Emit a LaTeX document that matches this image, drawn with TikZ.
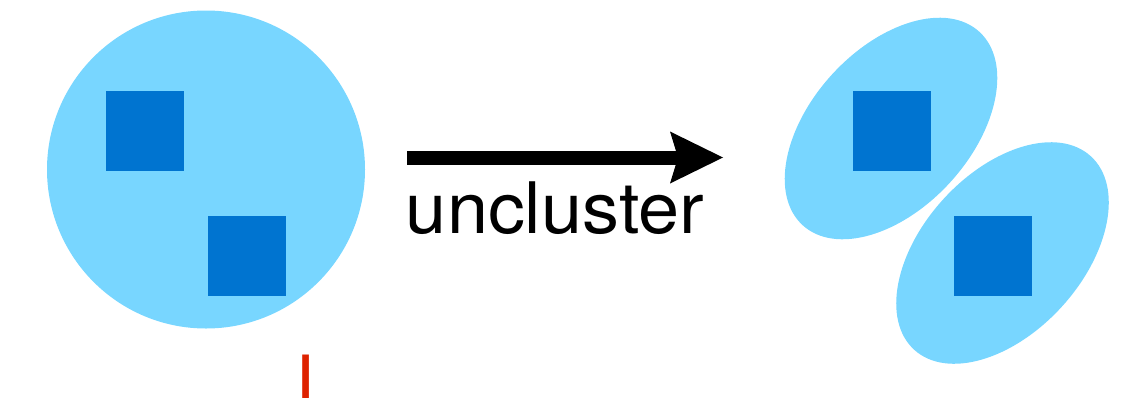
\documentclass[tikz,border=0pt]{standalone}
\usepackage{fontspec}
\setmainfont{TeX Gyre Heros}
\usetikzlibrary{shapes.geometric,arrows.meta}
\definecolor{lightblue}{RGB}{120,214,255}
\definecolor{darkblue}{RGB}{0,116,208}
\definecolor{cursorred}{RGB}{222,34,0}
\tikzset{
  blob/.style={fill=lightblue, draw=none, inner sep=0pt},
  sq/.style={rectangle, fill=darkblue, draw=none, inner sep=0pt, minimum width=78pt, minimum height=79.5pt},
  oval/.style={blob, ellipse, minimum width=262pt, minimum height=160pt, rotate=47.6},
  bigarrow/.style={line width=14pt, -{Stealth[length=53pt,width=52pt,inset=8pt,line width=0pt]}}
}
\begin{document}
\begin{tikzpicture}[x=1pt,y=-1pt]
\useasboundingbox (0,0) rectangle (1126,397);
% left cluster
\node[blob, circle, minimum size=318pt] (cl) at (206,169.5) {};
\node[sq] (s1) at (144.7,131) {};
\node[sq] (s2) at (246.7,256) {};
% cursor
\node[inner sep=0pt, anchor=base west, text=cursorred, font=\fontsize{72}{72}\selectfont] (cur) at (295.5,407) {I};
% arrow
\coordinate (a1) at (407,157.5);
\coordinate (a2) at (723,157.5);
\draw[bigarrow] (a1) -- (a2);
\node[inner sep=0pt, anchor=base, font=\fontsize{71}{71}\selectfont] (lbl) at (555,233) {\scalebox{1.04}[1]{uncluster}};
% right clusters
\node[oval] (e1) at (891,128.5) {};
\node[oval] (e2) at (1002.5,253) {};
\node[sq] (s3) at (892,131) {};
\node[sq] (s4) at (993,256) {};
\end{tikzpicture}
\end{document}
